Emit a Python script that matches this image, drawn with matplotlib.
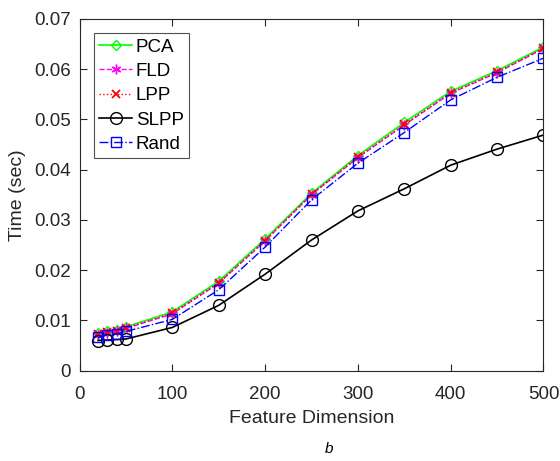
import matplotlib
matplotlib.use("Agg")
import matplotlib.pyplot as plt

plt.rcParams['font.family'] = ['Liberation Sans', 'DejaVu Sans']

dims = [20, 30, 40, 50, 100, 150, 200, 250, 300, 350, 400, 450, 500]
pca  = [0.0075, 0.0078, 0.0081, 0.0087, 0.0117, 0.0178, 0.0262, 0.0353, 0.0428, 0.0494, 0.0556, 0.0597, 0.0644]
fld  = [0.0071, 0.0075, 0.0079, 0.0084, 0.0113, 0.0174, 0.0258, 0.0350, 0.0424, 0.0489, 0.0552, 0.0593, 0.0641]
lpp  = [0.0072, 0.0076, 0.0079, 0.0085, 0.0114, 0.0175, 0.0259, 0.0351, 0.0425, 0.0490, 0.0553, 0.0594, 0.0642]
slpp = [0.0060, 0.0061, 0.0062, 0.0063, 0.0086, 0.0130, 0.0192, 0.0260, 0.0318, 0.0362, 0.0409, 0.0441, 0.0469]
rand = [0.0066, 0.0071, 0.0073, 0.0078, 0.0102, 0.0161, 0.0246, 0.0340, 0.0413, 0.0474, 0.0539, 0.0584, 0.0622]

xticks = [0, 100, 200, 300, 400, 500]
yticks = [0, 0.01, 0.02, 0.03, 0.04, 0.05, 0.06, 0.07]
ytick_labels = ['0', '0.01', '0.02', '0.03', '0.04', '0.05', '0.06', '0.07']

fig = plt.figure(figsize=(5.6, 4.61), dpi=100)
ax = fig.add_axes([0.142, 0.196, 0.8285, 0.7628])

tc = (0.15, 0.15, 0.15)
ax.plot(dims, pca, color=(0, 1, 0), linestyle='-', marker='D', markersize=5.5,
        markerfacecolor='none', markeredgewidth=1.0, linewidth=1.2, label='PCA')
ax.plot(dims, fld, color=(1, 0, 1), linestyle='--', marker=(6, 2, 0), markersize=7,
        markeredgewidth=1.0, linewidth=1.0, label='FLD')
ax.plot(dims, lpp, color=(1, 0, 0), linestyle=':', marker='x', markersize=6,
        markeredgewidth=1.3, linewidth=1.0, label='LPP')
ax.plot(dims, slpp, color='black', linestyle='-', marker='o', markersize=8.5,
        markerfacecolor='none', markeredgewidth=1.0, linewidth=1.2, label='SLPP')
ax.plot(dims, rand, color=(0, 0, 1), linestyle='-.', marker='s', markersize=6.5,
        markerfacecolor='none', markeredgewidth=1.0, linewidth=1.0, label='Rand')

ax.set_xlim(0, 500)
ax.set_ylim(0, 0.07)
ax.set_xticks(xticks)
ax.set_yticks(yticks)
ax.set_yticklabels(ytick_labels)
ax.tick_params(direction='in', top=True, right=True, labelsize=13.5, colors=tc,
               length=5, width=0.8)
ax.tick_params(axis='x', pad=11)
ax.tick_params(axis='y', pad=6)
for s in ax.spines.values():
    s.set_color(tc)
    s.set_linewidth(0.8)

ax.set_xlabel('Feature Dimension', fontsize=14, color=tc, labelpad=5)
ax.set_ylabel('Time (sec)', fontsize=14, color=tc, labelpad=6)

leg = ax.legend(loc='upper left', fontsize=13.5, frameon=True, fancybox=False,
                handlelength=1.75, handletextpad=0.2, borderpad=0.3,
                labelspacing=0.38, borderaxespad=0.75)
leg.get_frame().set_edgecolor(tc)
leg.get_frame().set_linewidth(0.8)

fig.text(0.5875, 0.018, 'b', fontsize=11, style='italic', ha='center', color='black')

fig.savefig('out.png', dpi=100)
